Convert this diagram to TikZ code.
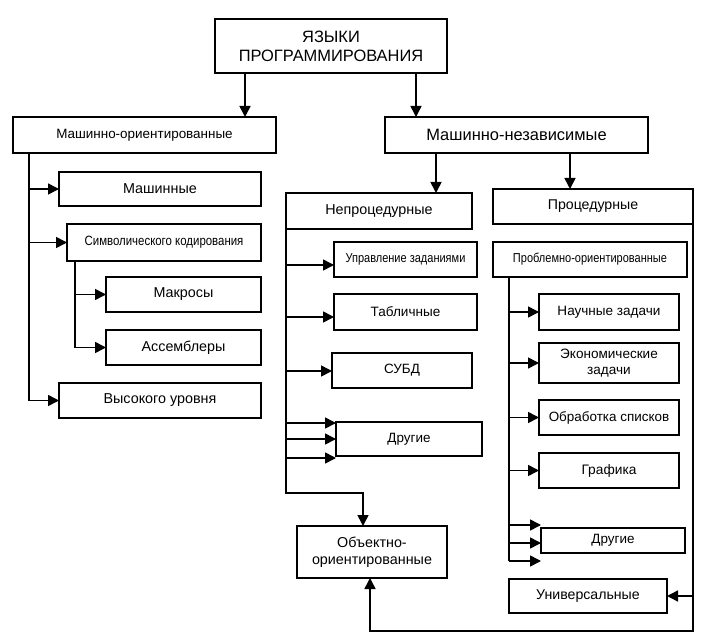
\documentclass[tikz,border=0pt]{standalone}
\usepackage{fontspec}
\usepackage{graphicx}
\setmainfont{Liberation Sans}
\usetikzlibrary{arrows.meta}
\newcommand\fsz[2]{\fontsize{#1}{#2}\selectfont}
\newcommand\narrowtxt[1]{\scalebox{0.85}[1]{#1}}
\newcommand\bx[7]{\node[#6, minimum width={(#4-#2)*1bp}, minimum height={(#5-#3)*1bp}] (#1) at ({(#2+#4)/2},{(#3+#5)/2}) {#7};}
\begin{document}
\begin{tikzpicture}[x=1bp,y=-1bp,
  box/.style={draw, line width=1.6bp, inner sep=0pt, outer sep=0pt, align=center, font=\fsz{14}{17}},
  thinbox/.style={box, line width=1.1bp},
  ttlbox/.style={box, line width=2.6bp},
  conn/.style={line width=1.6bp},
  arr/.style={conn, -{Triangle[length=11bp,width=11bp]}}]
\useasboundingbox (0,0) rectangle (703,637);
\fill[white] (0,0) rectangle (703,637);

% boxes
\bx{ttl}{215}{19}{447}{73}{ttlbox, font=\fsz{16.5}{19}}{ЯЗЫКИ\\ПРОГРАММИРОВАНИЯ}
\bx{mo}{13}{117}{276}{153}{thinbox, font=\fsz{13.5}{16}}{Машинно-ориентированные}
\bx{mn}{385}{117}{648}{153}{thinbox, font=\fsz{16.5}{19}}{Машинно-независимые}
\bx{mash}{59}{172}{261}{206}{box, font=\fsz{14.4}{17}}{Машинные}
\bx{sym}{67}{224}{261}{261}{box, font=\fsz{13.5}{16}}{\narrowtxt{Символического кодирования}}
\bx{makr}{106}{277}{261}{312}{box, font=\fsz{14.4}{17}}{Макросы}
\bx{asm}{106}{330}{261}{365}{box, font=\fsz{14.4}{17}}{Ассемблеры}
\bx{vys}{59}{383}{261}{418}{box, font=\fsz{14.4}{17}}{Высокого уровня}
\bx{nep}{286}{193}{472}{229}{thinbox, font=\fsz{14.4}{17}}{Непроцедурные}
\bx{pro}{493}{189}{693}{224}{thinbox, font=\fsz{14.2}{17}}{Процедурные}
\bx{uz}{334}{242}{477}{277}{box, font=\fsz{13}{16}}{\narrowtxt{Управление заданиями}}
\bx{tab}{334}{294}{477}{330}{box, font=\fsz{13.6}{16}}{Табличные}
\bx{subd}{332}{353}{472}{388}{box, font=\fsz{13.5}{16}}{СУБД}
\bx{dr1}{336}{422}{482}{456}{thinbox, font=\fsz{13.5}{16}}{Другие}
\bx{po}{493}{242}{687}{277}{box, font=\fsz{13}{16}}{\narrowtxt{Проблемно-ориентированные}}
\bx{nz}{539}{294}{679}{330}{box, font=\fsz{13.6}{16}}{Научные задачи}
\bx{ek}{539}{343}{679}{383}{box, font=\fsz{13.6}{16}}{Экономические\\задачи}
\bx{ob}{539}{400}{679}{435}{box, font=\fsz{13.5}{16}}{Обработка списков}
\bx{gr}{539}{453}{679}{488}{box, font=\fsz{13.8}{16}}{Графика}
\bx{dr2}{541}{528}{685}{553}{thinbox, font=\fsz{13.5}{16}}{Другие}
\bx{un}{509}{579}{667}{613}{box, font=\fsz{14.2}{17}}{Универсальные}
\bx{oo}{297}{526}{447}{578}{box, font=\fsz{14.4}{17}}{Объектно-\\ориентированные}

% helper coordinates
\coordinate (ta) at (245,0);
\coordinate (tb) at (416,0);
\coordinate (tc) at (436,0);
\coordinate (td) at (570,0);
\coordinate (lt) at (29,0);
\coordinate (st) at (75,0);
\coordinate (oa) at (363,493);
\coordinate (ox) at (370,631);
\coordinate (pt) at (509,0);
\coordinate (n1) at (286,265);
\coordinate (n2) at (286,317);
\coordinate (n3) at (286,371);
\coordinate (n4) at (286,423);
\coordinate (n5) at (286,439);
\coordinate (n6) at (286,458);
\coordinate (p5) at (509,525);
\coordinate (p6) at (509,543);
\coordinate (p7) at (509,561);

% top level
\draw[arr] (ttl.south -| ta) -- (mo.north -| ta);
\draw[arr] (ttl.south -| tb) -- (mn.north -| tb);
\draw[arr] (mn.south -| tc) -- (nep.north -| tc);
\draw[arr] (mn.south -| td) -- (pro.north -| td);

% machine-oriented branch
\draw[arr] (mo.south -| lt) |- (vys.west);
\draw[arr] (mash.west -| lt) -- (mash.west);
\draw[arr] (sym.west -| lt) -- (sym.west);
\draw[arr] (sym.south -| st) |- (asm.west);
\draw[arr] (makr.west -| st) -- (makr.west);

% non-procedural branch
\draw[arr] (nep.south west) |- (oa) -- (oo.north -| oa);
\draw[arr] (n1) -- (n1 -| uz.west);
\draw[arr] (n2) -- (n2 -| tab.west);
\draw[arr] (n3) -- (n3 -| subd.west);
\draw[arr] (n4) -- (n4 -| dr1.west);
\draw[arr] (n5) -- (n5 -| dr1.west);
\draw[arr] (n6) -- (n6 -| dr1.west);

% procedural branch
\draw[arr] (pro.south east) |- (ox) -- (oo.south -| ox);
\draw[arr] (un.east -| pro.east) -- (un.east);
\draw[conn] (po.south -| pt) -- (p7);
\draw[arr] (nz.west -| pt) -- (nz.west);
\draw[arr] (ek.west -| pt) -- (ek.west);
\draw[arr] (ob.west -| pt) -- (ob.west);
\draw[arr] (gr.west -| pt) -- (gr.west);
\draw[arr] (p5) -- (p5 -| dr2.west);
\draw[arr] (p6) -- (p6 -| dr2.west);
\draw[arr] (p7) -- (p7 -| dr2.west);
\end{tikzpicture}
\end{document}
